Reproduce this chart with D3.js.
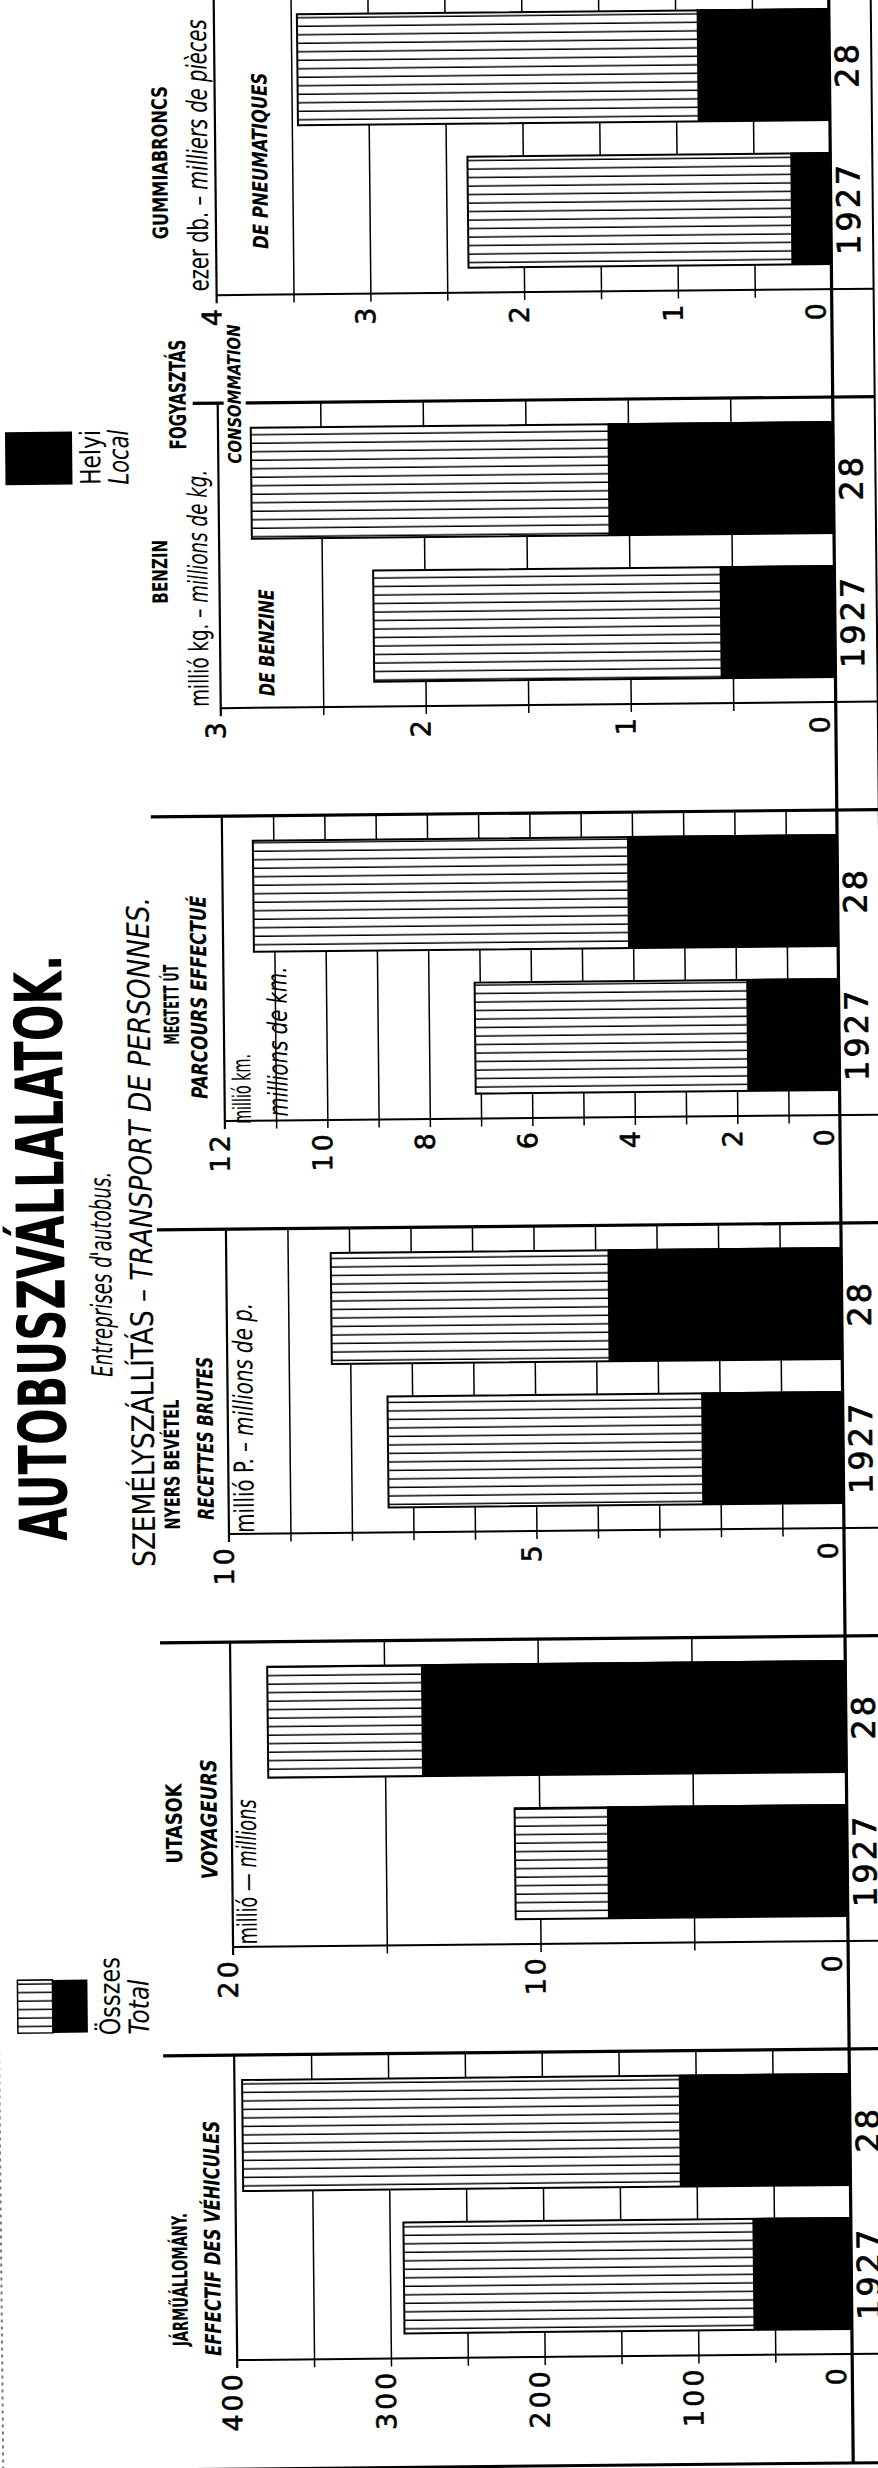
<!DOCTYPE html>
<html>
<head>
<meta charset="utf-8">
<script src="https://cdn.jsdelivr.net/npm/d3@7"></script>
<style>
  body { margin: 0; background: #fff; }
  svg { display: block; }
</style>
</head>
<body>
<svg></svg>
<script>
const size = {w: 878, h: 2468};

// years, left to right in the original (reads bottom to top here)
const years = ['1927', '28'];

// values: total (hatched) and local (black) per year
const totalTyres = [2.36, 3.46];
const localTyres = [0.26, 0.86];
const totalPetrol = [2.25, 2.84];
const localPetrol = [0.56, 1.10];
const totalKm = [7.1, 11.4];
const localKm = [1.8, 4.1];
const totalReceipts = [7.4, 8.3];
const localReceipts = [2.3, 3.8];
const totalPassengers = [10.8, 18.8];
const localPassengers = [7.8, 13.8];
const totalVehicles = [291, 395];
const localVehicles = [64, 111];

// axis ranges, grid steps and label steps
const axisMax = [4, 3, 12, 10, 20, 400];
const gridStep = [0.5, 0.5, 1, 1, 5, 50];
const labelStep = [1, 1, 2, 5, 10, 100];

const totals = [totalTyres, totalPetrol, totalKm, totalReceipts, totalPassengers, totalVehicles];
const locals = [localTyres, localPetrol, localKm, localReceipts, localPassengers, localVehicles];

// layout
const zeroX = 841, leftX = 226, rightX = 883;
const firstTop = -16, pitch = 413, plotH = 305;
const skew = -0.57;
const cond = "'Liberation Sans Narrow', 'DejaVu Sans Condensed', 'Roboto', sans-serif";
const numFont = "'DejaVu Sans', sans-serif";

const svg = d3.select('svg')
    .attr('width', size.w)
    .attr('height', size.h)
    .attr('viewBox', `0 0 ${size.w} ${size.h}`);

const defs = svg.append('defs');
const hatch = defs.append('pattern')
    .attr('id', 'hatch')
    .attr('patternUnits', 'userSpaceOnUse')
    .attr('width', 10)
    .attr('height', 8.5);
hatch.append('rect').attr('width', 10).attr('height', 8.5).attr('fill', '#fff');
hatch.append('line')
    .attr('x1', 0).attr('x2', 10)
    .attr('y1', 4).attr('y2', 4)
    .attr('stroke', '#000')
    .attr('stroke-width', 1.5);

svg.append('rect').attr('width', size.w).attr('height', size.h).attr('fill', '#fff');

// the scanned sheet is slightly turned
const root = svg.append('g').attr('transform', `rotate(${skew} ${zeroX} 1234)`);

function vtext(parent, x, y, fs, parts, o = {}) {
    let t = parent.append('text')
        .attr('transform', `translate(${x},${y}) rotate(-90)`)
        .attr('text-anchor', o.anchor || 'middle')
        .attr('font-family', o.family || cond)
        .attr('font-size', fs)
        .attr('font-weight', o.weight || 'normal')
        .attr('fill', '#000');
    if (o.len) t.attr('textLength', o.len).attr('lengthAdjust', 'spacingAndGlyphs');
    [].concat(parts).forEach(p => {
        if (typeof p === 'string') p = {t: p};
        t.append('tspan')
            .attr('font-style', p.i ? 'italic' : 'normal')
            .text(p.t);
    });
    return t;
}

function hline(x1, x2, y, w) {
    root.append('line')
        .attr('x1', x1).attr('x2', x2)
        .attr('y1', y).attr('y2', y)
        .attr('stroke', '#000')
        .attr('stroke-width', w);
}

function vline(x, y1, y2, w) {
    root.append('line')
        .attr('x1', x).attr('x2', x)
        .attr('y1', y1).attr('y2', y2)
        .attr('stroke', '#000')
        .attr('stroke-width', w);
}

// where each panel's top rule starts
const ruleStart = [155, 201, 155, 157, 156, 155];

axisMax.forEach(function(max, i) {
    let top = firstTop + i * pitch;
    let base = top + plotH;

    let x = d3.scaleLinear().domain([0, max]).range([zeroX, leftX]);
    let y = d3.scaleBand()
        .domain(years.slice().reverse())
        .range([top, base])
        .paddingInner(0.229)
        .paddingOuter(0.1736);

    let g = root.append('g');

    // grid lines, running a little below the base line
    let grid = g.append('g')
        .attr('transform', `translate(0,${base})`)
        .call(d3.axisBottom(x)
            .tickValues(d3.range(gridStep[i], max, gridStep[i]))
            .tickSize(8)
            .tickFormat(''));
    grid.select('.domain').remove();
    grid.selectAll('.tick line')
        .attr('y1', -plotH)
        .attr('y2', 8)
        .attr('stroke', '#000')
        .attr('stroke-width', 1.5);

    let rows = years.map((yr, j) => ({yr: yr, total: totals[i][j], local: locals[i][j]}));

    g.selectAll('rect.total')
        .data(rows)
        .join('rect')
        .attr('class', 'total')
        .attr('x', d => x(d.total))
        .attr('y', d => y(d.yr))
        .attr('width', d => x(0) - x(d.total))
        .attr('height', y.bandwidth())
        .attr('fill', 'url(#hatch)')
        .attr('stroke', '#000')
        .attr('stroke-width', 2);

    g.selectAll('rect.local')
        .data(rows)
        .join('rect')
        .attr('class', 'local')
        .attr('x', d => x(d.local))
        .attr('y', d => y(d.yr) - 1)
        .attr('width', d => x(0) - x(d.local))
        .attr('height', y.bandwidth() + 1)
        .attr('fill', '#000');

    // frame of the panel
    hline(ruleStart[i], rightX, top, 3.2);
    hline(leftX, rightX, base, 2);
    vline(leftX, top, base + 8, 2.2);

    // tick labels
    let labels = g.append('g')
        .attr('transform', `translate(0,${base})`)
        .call(d3.axisBottom(x)
            .tickValues(d3.range(0, max + labelStep[i] / 2, labelStep[i]))
            .tickSize(0)
            .tickFormat(d3.format('d')));
    labels.select('.domain').remove();
    labels.attr('font-family', numFont).attr('font-size', 27);
    labels.selectAll('.tick text')
        .attr('x', 0).attr('y', 0).attr('dy', 0)
        .attr('text-anchor', 'end')
        .attr('letter-spacing', 3)
        .attr('fill', '#000')
        .attr('stroke', '#000')
        .attr('stroke-width', 0.6)
        .attr('transform', d => d === 0 ? 'translate(-7,11) rotate(-90)' : 'translate(4,11) rotate(-90)');

    // year labels on the right
    g.selectAll('text.year')
        .data(years)
        .join('text')
        .attr('class', 'year')
        .attr('transform', d => `translate(870,${y(d) + y.bandwidth() / 2}) rotate(-90)`)
        .attr('text-anchor', 'middle')
        .attr('font-family', numFont)
        .attr('font-size', 32)
        .attr('letter-spacing', 3)
        .attr('stroke', '#000')
        .attr('stroke-width', 0.7)
        .text(d => d);
});

// long rules
vline(zeroX, -20, 2463, 3.2);
vline(rightX, -20, 2463, 2);
hline(155, rightX, 2463, 3);
root.append('line')
    .attr('x1', -9).attr('x2', -9)
    .attr('y1', 1800).attr('y2', 2470)
    .attr('stroke', '#777')
    .attr('stroke-width', 2)
    .attr('stroke-dasharray', '3 4');

// titles
vtext(root, 64, 1240, 66, 'AUTOBUSZVÁLLALATOK.', {weight: 'bold', len: 586});
vtext(root, 111, 1267, 29, {t: "Entreprises d'autobus.", i: true}, {len: 205});
vtext(root, 152, 1225, 31, ['SZEMÉLYSZÁLLÍTÁS  –  ', {t: 'TRANSPORT DE PERSONNES.', i: true}], {len: 670});

// tyres
vtext(root, 178, 156, 21, 'GUMMIABRONCS', {weight: 'bold', len: 153});
vtext(root, 218, 149, 28, ['ezer db. – ', {t: 'milliers de pièces', i: true}], {len: 272});
vtext(root, 278, 155, 21, {t: 'DE PNEUMATIQUES', i: true}, {weight: 'bold', len: 176});

// shared word between tyres and petrol
vtext(root, 194, 388, 23, 'FOGYASZTÁS', {weight: 'bold', len: 110});
root.append('rect').attr('x', 232).attr('y', 318).attr('width', 22).attr('height', 140).attr('fill', '#fff');
vtext(root, 249, 388, 18, {t: 'CONSOMMATION', i: true}, {weight: 'bold', len: 139});

// petrol
vtext(root, 174, 565, 21, 'BENZIN', {weight: 'bold', len: 64});
vtext(root, 214, 582, 27, ['millió kg. – ', {t: 'millions de kg.', i: true}], {len: 237});
vtext(root, 280, 637, 21, {t: 'DE BENZINE', i: true}, {weight: 'bold', len: 107});

// distance
vtext(root, 181, 998, 21, 'MEGTETT ÚT', {weight: 'bold', len: 80});
vtext(root, 209, 991, 22, {t: 'PARCOURS EFFECTUÉ', i: true}, {weight: 'bold', len: 203});
vtext(root, 252, 1083, 25, 'millió km.', {len: 70});
vtext(root, 289, 1036, 27, {t: 'millions de km.', i: true}, {len: 150});

// receipts
vtext(root, 177, 1458, 21, 'NYERS BEVÉTEL', {weight: 'bold', len: 130});
vtext(root, 211, 1432, 22, {t: 'RECETTES BRUTES', i: true}, {weight: 'bold', len: 163});
vtext(root, 251, 1412, 27, ['millió P. – ', {t: 'millions de p.', i: true}], {len: 230});

// passengers
vtext(root, 176, 1817, 22, 'UTASOK', {weight: 'bold', len: 80});
vtext(root, 211, 1813, 22, {t: 'VOYAGEURS', i: true}, {weight: 'bold', len: 120});
vtext(root, 250, 1866, 27, ['millió — ', {t: 'millions', i: true}], {len: 145});

// vehicles
vtext(root, 177, 2273, 21, 'JÁRMŰÁLLOMÁNY.', {weight: 'bold', len: 133});
vtext(root, 210, 2232, 22, {t: 'EFFECTIF DES VÉHICULES', i: true}, {weight: 'bold', len: 235});

// legend: local
root.append('rect').attr('x', 13).attr('y', 424).attr('width', 67).attr('height', 53).attr('fill', '#000');
vtext(root, 108, 450, 28, 'Helyi', {len: 55});
vtext(root, 136, 450, 28, {t: 'Local', i: true}, {len: 55});

// legend: total
root.append('rect').attr('x', 10).attr('y', 1972).attr('width', 35).attr('height', 53)
    .attr('fill', 'url(#hatch)').attr('stroke', '#000').attr('stroke-width', 1.5);
root.append('rect').attr('x', 45).attr('y', 1972).attr('width', 35).attr('height', 53).attr('fill', '#000');
vtext(root, 112, 1989, 28, 'Összes', {len: 78});
vtext(root, 141, 2000, 28, {t: 'Total', i: true}, {len: 55});
</script>
</body>
</html>
